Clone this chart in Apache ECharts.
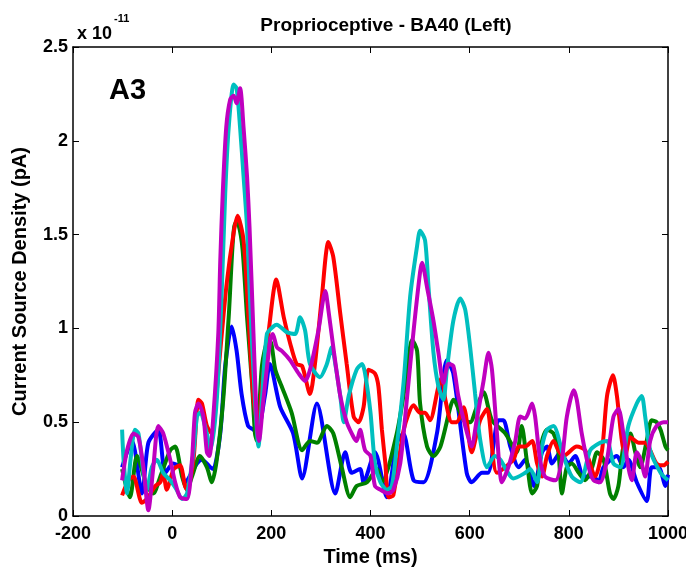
<!DOCTYPE html>
<html>
<head>
<meta charset="utf-8">
<script src="https://cdn.jsdelivr.net/npm/echarts@6/dist/echarts.min.js"></script>
<style>html,body{margin:0;padding:0;background:#fff}#c{width:686px;height:571px}</style>
</head>
<body>
<div id="c"></div>
<script>
var xTicks = [-200, 0, 200, 400, 600, 800, 1000];
var yTicks = [0, 0.5, 1, 1.5, 2, 2.5];

var blueT = [-101,-81,-61,-48,-28,-14,2,16,26,50,60,77,83,97,107,120,130,140,153,164,171,187,197,218,244,262,292,329,349,362,379,386,409,433,453,466,487,507,534,554,567,594,604,625,637,658,668,682,699,712,730,746,756,766,783,799,813,830,850,860,870,897,910,920,937,957,967,981,995,1000];
var blueV = [0.26,0.40,0.12,0.39,0.46,0.23,0.28,0.26,0.18,0.28,0.30,0.26,0.25,0.44,0.80,1.01,0.88,0.65,0.48,0.46,0.44,0.64,0.81,0.58,0.44,0.20,0.60,0.12,0.34,0.23,0.25,0.18,0.34,0.10,0.39,0.44,0.19,0.18,0.44,0.83,0.76,0.23,0.18,0.23,0.23,0.51,0.51,0.37,0.26,0.30,0.16,0.34,0.37,0.28,0.34,0.28,0.32,0.21,0.21,0.18,0.26,0.32,0.26,0.30,0.18,0.08,0.26,0.26,0.16,0.22];

var greenT = [-101,-91,-85,-71,-51,-38,-24,-4,6,20,30,40,56,70,80,90,103,114,127,134,142,151,161,167,171,181,194,200,208,221,241,262,278,292,312,325,342,359,372,393,413,423,453,470,484,494,500,514,527,541,561,567,588,601,614,628,645,672,695,705,715,726,736,746,756,769,779,786,796,806,820,833,847,857,870,883,890,900,910,924,934,944,957,967,977,985,995,1000];
var greenV = [0.25,0.14,0.10,0.32,0.16,0.12,0.21,0.35,0.37,0.21,0.14,0.21,0.32,0.26,0.18,0.30,0.62,1.06,1.56,1.55,1.42,1.06,0.71,0.44,0.40,0.80,0.94,0.92,0.78,0.69,0.55,0.35,0.40,0.39,0.48,0.44,0.26,0.10,0.16,0.18,0.25,0.18,0.44,0.70,0.94,0.88,0.60,0.37,0.32,0.37,0.58,0.62,0.51,0.50,0.58,0.66,0.51,0.44,0.34,0.48,0.30,0.12,0.16,0.40,0.46,0.44,0.34,0.12,0.26,0.28,0.23,0.19,0.26,0.34,0.30,0.12,0.09,0.16,0.37,0.44,0.34,0.26,0.40,0.51,0.50,0.46,0.37,0.35];

var redT = [-101,-88,-78,-61,-51,-34,-24,-18,-11,3,16,26,30,43,53,60,70,80,87,97,110,124,132,144,154,164,174,181,194,210,225,238,251,262,278,288,302,315,325,339,352,366,376,386,396,409,416,423,430,436,446,467,487,500,510,520,537,544,551,564,574,588,604,621,635,655,688,699,712,726,736,746,756,769,779,789,816,833,853,867,877,889,897,907,914,924,941,954,964,977,991,1000];
var redV = [0.11,0.19,0.21,0.07,0.09,0.16,0.18,0.23,0.14,0.25,0.27,0.16,0.14,0.30,0.62,0.60,0.48,0.44,0.58,0.88,1.24,1.51,1.60,1.47,1.06,0.62,0.48,0.69,0.97,1.26,1.06,0.92,0.81,0.80,0.65,0.81,1.17,1.46,1.38,1.08,0.81,0.53,0.50,0.58,0.78,0.76,0.69,0.46,0.28,0.10,0.11,0.46,0.59,0.55,0.55,0.51,0.69,0.74,0.62,0.50,0.50,0.58,0.34,0.51,0.57,0.23,0.30,0.37,0.37,0.40,0.28,0.21,0.32,0.40,0.35,0.32,0.37,0.35,0.21,0.35,0.64,0.75,0.64,0.40,0.32,0.42,0.39,0.39,0.35,0.28,0.27,0.29];

var cyanT = [-101,-98,-91,-84,-75,-68,-58,-51,-41,-31,-18,-4,9,20,30,43,50,56,70,77,90,100,107,114,124,130,137,144,151,157,167,174,181,191,204,211,231,248,258,268,278,298,312,322,329,339,346,356,372,383,389,400,409,420,433,443,453,467,480,494,500,510,517,527,537,547,554,567,581,591,601,611,621,635,651,662,675,688,712,722,736,746,756,769,789,806,823,843,863,877,890,904,920,937,947,954,964,985,1000];
var cyanV = [0.46,0.30,0.12,0.30,0.46,0.44,0.23,0.14,0.26,0.30,0.23,0.19,0.14,0.09,0.12,0.34,0.53,0.55,0.44,0.35,0.62,1.20,1.72,2.07,2.30,2.28,2.07,1.81,1.54,1.15,0.62,0.37,0.62,0.97,1.01,1.02,0.98,0.97,1.06,0.99,0.81,0.74,0.81,0.90,0.81,0.64,0.50,0.64,0.78,0.81,0.76,0.55,0.28,0.18,0.14,0.16,0.37,0.72,1.17,1.44,1.52,1.47,1.22,0.87,0.69,0.62,0.78,1.04,1.16,1.10,0.90,0.65,0.41,0.26,0.32,0.30,0.24,0.20,0.23,0.25,0.18,0.37,0.46,0.48,0.32,0.21,0.18,0.35,0.39,0.40,0.28,0.26,0.48,0.60,0.64,0.53,0.35,0.23,0.19];

var magentaT = [-101,-91,-78,-68,-58,-48,-38,-28,-18,-4,6,16,30,40,46,53,63,70,75,83,93,97,102,109,117,124,130,137,144,151,156,164,171,175,184,198,203,211,221,238,255,268,278,295,309,315,325,339,352,366,372,379,389,400,409,420,436,446,460,474,487,500,504,514,527,537,547,557,567,577,591,604,614,628,638,645,655,665,678,692,702,712,726,732,742,752,773,786,796,810,816,826,840,850,863,877,890,900,910,920,927,937,945,954,964,977,991,1000];
var magentaV = [0.19,0.35,0.44,0.42,0.26,0.03,0.26,0.48,0.44,0.30,0.18,0.10,0.09,0.30,0.55,0.60,0.53,0.34,0.32,0.53,0.97,1.36,1.72,2.07,2.22,2.24,2.20,2.28,2.07,1.81,1.54,0.97,0.48,0.40,0.62,0.94,0.97,0.90,0.88,0.83,0.76,0.72,0.78,0.99,1.20,1.10,0.90,0.64,0.50,0.42,0.40,0.46,0.35,0.32,0.16,0.14,0.12,0.14,0.28,0.64,0.99,1.30,1.35,1.22,1.04,0.87,0.71,0.81,0.80,0.64,0.48,0.37,0.51,0.72,0.87,0.78,0.44,0.18,0.26,0.40,0.53,0.52,0.60,0.53,0.30,0.21,0.19,0.30,0.53,0.67,0.62,0.44,0.26,0.19,0.18,0.30,0.53,0.57,0.44,0.26,0.19,0.34,0.30,0.21,0.40,0.48,0.50,0.50];

function pairs(t, v) { return t.map(function (x, i) { return [x, v[i]]; }); }

var seriesDefs = [
  { name: 'blue', t: blueT, v: blueV, color: '#0000ff' },
  { name: 'green', t: greenT, v: greenV, color: '#008000' },
  { name: 'red', t: redT, v: redV, color: '#ff0000' },
  { name: 'cyan', t: cyanT, v: cyanV, color: '#00bfbf' },
  { name: 'magenta', t: magentaT, v: magentaV, color: '#bf00bf' }
];

var FONT = 'Liberation Sans, Arial, sans-serif';
var chart = echarts.init(document.getElementById('c'), null, { renderer: 'canvas' });

var axisCommon = {
  axisLine: { show: true, onZero: false, lineStyle: { color: '#000', width: 1.5 } },
  axisTick: { show: true, inside: true, length: 6, lineStyle: { color: '#000' } },
  splitLine: { show: false }
};

chart.setOption({
  animation: false,
  backgroundColor: '#fff',
  title: {
    text: 'Proprioceptive - BA40 (Left)',
    left: 381, top: 11, textAlign: 'center',
    textStyle: { fontFamily: FONT, fontWeight: 'bold', fontSize: 19, color: '#000' }
  },
  grid: { left: 73, right: 18, top: 47, bottom: 55, outerBoundsMode: 'none', containLabel: false },
  xAxis: [
    Object.assign({}, axisCommon, {
      type: 'value', position: 'bottom', min: -200, max: 1000, interval: 200,
      name: 'Time (ms)', nameLocation: 'middle', nameGap: 29,
      nameTextStyle: { fontFamily: FONT, fontWeight: 'bold', fontSize: 20, color: '#000' },
      axisLabel: { margin: 9, fontFamily: FONT, fontWeight: 'bold', fontSize: 18, color: '#000',
        formatter: function (v) { return xTicks.indexOf(v) >= 0 ? String(v) : ''; } }
    }),
    Object.assign({}, axisCommon, {
      type: 'value', position: 'top', min: -200, max: 1000, interval: 200,
      axisLabel: { show: false }
    })
  ],
  yAxis: [
    Object.assign({}, axisCommon, {
      type: 'value', position: 'left', min: 0, max: 2.5, interval: 0.5,
      name: 'Current Source Density (pA)', nameLocation: 'middle', nameGap: 43, nameRotate: 90,
      nameTextStyle: { fontFamily: FONT, fontWeight: 'bold', fontSize: 20, color: '#000' },
      axisLabel: { margin: 5, fontFamily: FONT, fontWeight: 'bold', fontSize: 18, color: '#000',
        formatter: function (v) { return yTicks.indexOf(v) >= 0 ? String(v) : ''; } }
    }),
    Object.assign({}, axisCommon, {
      type: 'value', position: 'right', min: 0, max: 2.5, interval: 0.5,
      axisLabel: { show: false }
    })
  ],
  graphic: [
    {
      type: 'text', left: 77, top: 25,
      style: { text: 'x 10', fontFamily: FONT, fontWeight: 'bold', fontSize: 18, fill: '#000' }
    },
    {
      type: 'text', left: 114, top: 13,
      style: { text: '-11', fontFamily: FONT, fontWeight: 'bold', fontSize: 11, fill: '#000' }
    },
    {
      type: 'text', left: 109, top: 76,
      style: { text: 'A3', fontFamily: FONT, fontWeight: 'bold', fontSize: 29, fill: '#000' }
    }
  ],
  series: seriesDefs.map(function (s) {
    return {
      name: s.name, type: 'line', xAxisIndex: 0, yAxisIndex: 0,
      data: pairs(s.t, s.v), showSymbol: false, smooth: 0.25,
      lineStyle: { color: s.color, width: 4 }, itemStyle: { color: s.color },
      clip: true
    };
  })
});
</script>
</body>
</html>
